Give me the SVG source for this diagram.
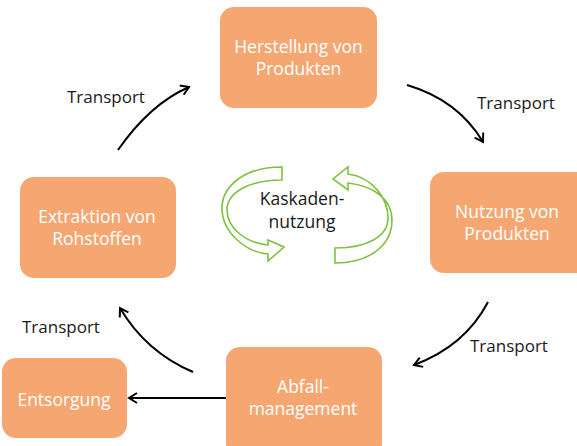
<svg xmlns="http://www.w3.org/2000/svg" width="577" height="446" viewBox="0 0 577 446">
<style>
.box{fill:#F6A771;}
.bt{font-family:"Open Sans","Liberation Sans",sans-serif;font-size:17.5px;fill:#ffffff;text-anchor:middle;}
.lt{font-family:"Open Sans","Liberation Sans",sans-serif;font-size:17px;fill:#1a1a1a;}
.con{fill:none;stroke:#000;stroke-width:2;marker-end:url(#ah);}
.cyc{fill:#ffffff;stroke:#7DC242;stroke-width:1.6;stroke-linejoin:miter;}
</style>
<defs>
<marker id="ah" viewBox="0 0 12 12" refX="10" refY="6" markerWidth="12" markerHeight="12" markerUnits="userSpaceOnUse" orient="auto">
<path d="M2,1 L10,6 L2,11" fill="none" stroke="#000" stroke-width="2"/>
</marker>
</defs>
<g id="connectors">
<path class="con" d="M118,150 Q150,104 189,87"/>
<path class="con" d="M407,85 Q458,100 483,142"/>
<path class="con" d="M488,302 Q465,346 414,365"/>
<path class="con" d="M193,372 Q146,352 120,308"/>
<path class="con" d="M226,398 L129,398"/>
</g>
<g id="labels">
<text class="lt" x="67" y="103">Transport</text>
<text class="lt" x="477" y="109">Transport</text>
<text class="lt" x="470" y="352">Transport</text>
<text class="lt" x="22" y="333">Transport</text>
</g>
<g id="herstellung">
<rect class="box" x="220" y="7" width="157" height="101" rx="14"/>
<text class="bt" x="298.5" y="53">Herstellung von</text>
<text class="bt" x="298.5" y="75">Produkten</text>
</g>
<g id="nutzung">
<rect class="box" x="430" y="172" width="160" height="101" rx="14"/>
<text class="bt" x="507" y="218">Nutzung von</text>
<text class="bt" x="507" y="240">Produkten</text>
</g>
<g id="extraktion">
<rect class="box" x="20" y="177" width="156" height="101" rx="14"/>
<text class="bt" x="97" y="223">Extraktion von</text>
<text class="bt" x="97" y="245">Rohstoffen</text>
</g>
<g id="abfall">
<rect class="box" x="226" y="347" width="156" height="110" rx="14"/>
<text class="bt" x="303" y="393">Abfall-</text>
<text class="bt" x="303" y="415">management</text>
</g>
<g id="entsorgung">
<rect class="box" x="2" y="358" width="125" height="80" rx="14"/>
<text class="bt" x="64" y="406">Entsorgung</text>
</g>
<g id="kaskaden">
<path class="cyc" d="M282,167 C242,167 222,188 222,208 C222,232 245,252 268,254 L268,261 L284,247 L268,240 L268,245 C246,243 227,228 227,210 C227,192 250,180 282,180 Z"/>
<path class="cyc" d="M335,263 C370,263 392,245 392,220 C392,200 375,186 348,183 L348,190 L333,179 L348,167 L348,174 C372,177 388,198 388,218 C388,236 368,248 335,248 Z"/>
<text class="lt" x="302" y="205" text-anchor="middle" style="font-size:17.5px">Kaskaden-</text>
<text class="lt" x="302" y="228" text-anchor="middle" style="font-size:17.5px">nutzung</text>
</g>
</svg>
